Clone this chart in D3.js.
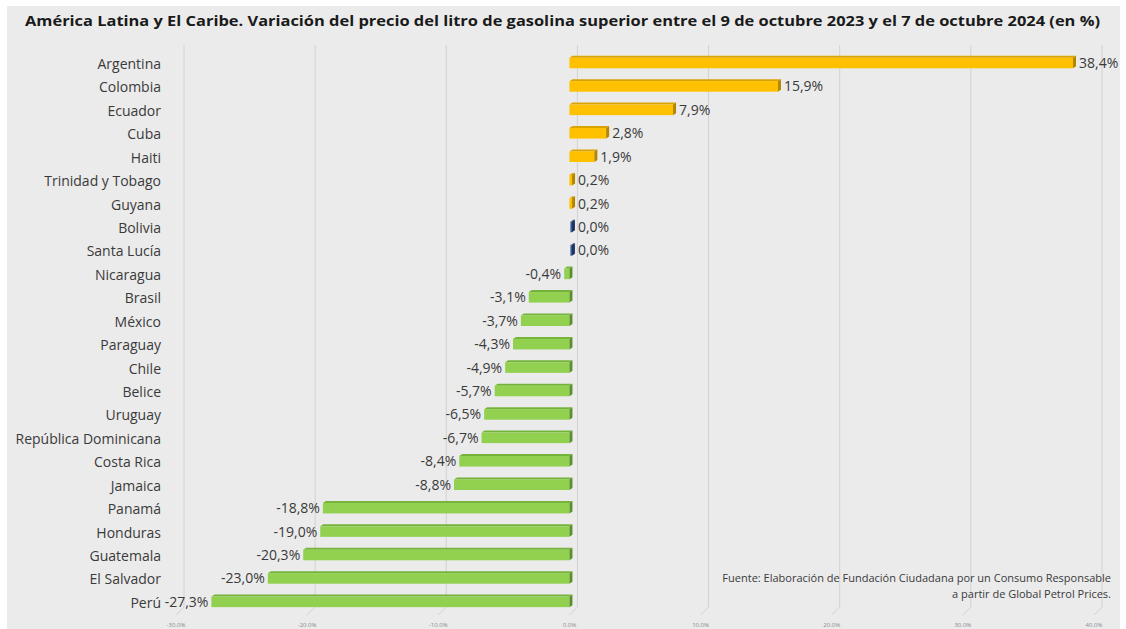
<!DOCTYPE html>
<html>
<head>
<meta charset="utf-8">
<script src="https://cdn.jsdelivr.net/npm/d3@7"></script>
<style>
  body { margin: 0; background: #fff; }
  text { font-family: "Open Sans", "DejaVu Sans", sans-serif; fill: #3a3a3a; }
  .cat-label { font-size: 14px; }
  .val-label { font-size: 14px; }
  .tick-label { font-size: 6px; fill: #8a8a8a; }
  .title { font-size: 14px; font-weight: bold; fill: #1a1a1a; }
  .source { font-size: 11px; }
</style>
</head>
<body>
<div id="chart"></div>
<script>
var countries = ["Argentina", "Colombia", "Ecuador", "Cuba", "Haiti", "Trinidad y Tobago", "Guyana",
    "Bolivia", "Santa Lucía", "Nicaragua", "Brasil", "México", "Paraguay", "Chile", "Belice", "Uruguay",
    "República Dominicana", "Costa Rica", "Jamaica", "Panamá", "Honduras", "Guatemala", "El Salvador", "Perú"];
var values = [38.4, 15.9, 7.9, 2.8, 1.9, 0.2, 0.2, 0.0, 0.0, -0.4, -3.1, -3.7, -4.3, -4.9, -5.7, -6.5,
    -6.7, -8.4, -8.8, -18.8, -19.0, -20.3, -23.0, -27.3];
var tickValues = [-30, -20, -10, 0, 10, 20, 30, 40];
var titleText = "América Latina y El Caribe. Variación del precio del litro de gasolina superior entre el 9 de octubre 2023 y el 7 de octubre 2024 (en %)";
var sourceLines = ["Fuente: Elaboración de Fundación Ciudadana por un Consumo Responsable", "a partir de Global Petrol Prices."];

var w = 1126, h = 629;
var depthX = 3, depthY = 2, wallShift = 8;

var data = countries.map(function (c, i) { return { name: c, value: values[i] }; });

// d3 uses a unicode minus, the original uses a plain hyphen
function fmt1(v) { return d3.format('.1f')(v).replace('\u2212', '-'); }

var svg = d3.select('#chart').append('svg')
    .attr('width', w)
    .attr('height', h);

// panel background
svg.append('rect').attr('x', 7).attr('y', 6).attr('width', 1113).attr('height', h - 6).attr('fill', '#ebebeb');

var x = d3.scaleLinear().domain([-30, 40]).range([176, 1094]);
var y = d3.scaleBand().domain(countries).range([50.3, 612.6]).paddingInner(0.55).paddingOuter(0.275);

// gridlines with 3D floor offset
var grid = svg.append('g').attr('class', 'grid');
tickValues.forEach(function (t) {
    grid.append('path')
        .attr('d', 'M' + (x(t) + wallShift) + ',45 L' + (x(t) + wallShift) + ',607 L' + x(t) + ',615')
        .attr('fill', 'none')
        .attr('stroke', '#d2d2d2')
        .attr('stroke-width', 1);
});

// tick labels
svg.append('g').selectAll('text').data(tickValues).enter().append('text')
    .attr('class', 'tick-label')
    .attr('x', d => x(d))
    .attr('y', 627)
    .attr('text-anchor', 'middle')
    .text(d => fmt1(d) + '%');

function colors(v) {
    if (v > 0) return { front: '#ffc000', top: '#d9a300', side: '#b38600' };
    if (v < 0) return { front: '#92d050', top: '#74b33a', side: '#5a8f2a' };
    return { front: '#2f5597', top: '#233f70', side: '#1c3560' };
}

var bars = svg.append('g').attr('class', 'bars');
data.forEach(function (d) {
    var c = colors(d.value);
    var x0 = Math.min(x(0), x(d.value));
    var x1 = Math.max(x(0), x(d.value));
    if (d.value === 0) { x0 = x(0) + 1; x1 = x(0) + 2.5; }
    var bw = x1 - x0;
    var by = y(d.name) + depthY / 2;
    var bh = y.bandwidth();
    var g = bars.append('g');
    g.append('path')
        .attr('d', `M${x0},${by} L${x0 + depthX},${by - depthY} L${x1 + depthX},${by - depthY} L${x1},${by} Z`)
        .attr('fill', c.top);
    g.append('rect')
        .attr('x', x0).attr('y', by)
        .attr('width', bw).attr('height', bh)
        .attr('fill', c.front);
    g.append('path')
        .attr('d', `M${x1},${by} L${x1 + depthX},${by - depthY} L${x1 + depthX},${by + bh - depthY} L${x1},${by + bh} Z`)
        .attr('fill', c.side);

    var label = fmt1(d.value).replace('.', ',') + '%';
    var lx = d.value >= 0 ? x1 + depthX + 3 : x0 - 3;
    g.append('text')
        .attr('class', 'val-label')
        .attr('x', lx)
        .attr('y', y(d.name) + y.bandwidth() / 2 + 6)
        .attr('text-anchor', d.value >= 0 ? 'start' : 'end')
        .text(label);
});

// category labels
svg.append('g').selectAll('text').data(countries).enter().append('text')
    .attr('class', 'cat-label')
    .attr('x', 161)
    .attr('y', d => y(d) + y.bandwidth() / 2 + 7)
    .attr('text-anchor', 'end')
    .text(d => d);

// title
svg.append('text').attr('class', 'title')
    .attr('x', 25).attr('y', 26)
    .attr('textLength', 1075)
    .attr('lengthAdjust', 'spacingAndGlyphs')
    .text(titleText);

// source note
sourceLines.forEach(function (s, i) {
    svg.append('text').attr('class', 'source')
        .attr('x', 1111).attr('y', 582 + i * 16)
        .attr('text-anchor', 'end')
        .text(s);
});
</script>
</body>
</html>
